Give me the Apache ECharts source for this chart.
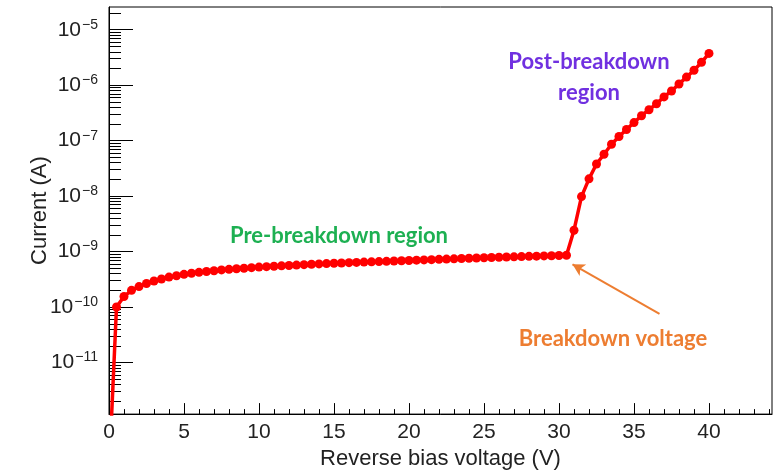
<!DOCTYPE html>
<html>
<head>
<meta charset="utf-8">
<script src="https://cdn.jsdelivr.net/npm/echarts@6/dist/echarts.min.js"></script>
<style>
html,body{margin:0;padding:0;background:#fff;}
#c{width:781px;height:475px;}
</style>
</head>
<body>
<div id="c"></div>
<script>
// Reverse bias voltage (V)
const voltage = [];
for (let i = 0; i <= 80; i++) voltage.push(i * 0.5);
// Current (A)
const current = [
  1.0e-13,
  1.00e-10, 1.55e-10, 2.00e-10, 2.34e-10, 2.66e-10, 2.95e-10, 3.20e-10, 3.47e-10, 3.67e-10, 3.89e-10,
  4.07e-10, 4.22e-10, 4.37e-10, 4.52e-10, 4.68e-10, 4.79e-10, 4.90e-10, 5.01e-10, 5.13e-10, 5.25e-10,
  5.35e-10, 5.45e-10, 5.53e-10, 5.62e-10, 5.71e-10, 5.81e-10, 5.90e-10, 6.00e-10, 6.08e-10, 6.17e-10,
  6.24e-10, 6.31e-10, 6.38e-10, 6.46e-10, 6.53e-10, 6.61e-10, 6.68e-10, 6.76e-10, 6.84e-10, 6.92e-10,
  7.00e-10, 7.08e-10, 7.16e-10, 7.24e-10, 7.33e-10, 7.41e-10, 7.50e-10, 7.59e-10, 7.67e-10, 7.76e-10,
  7.83e-10, 7.91e-10, 7.98e-10, 8.05e-10, 8.13e-10, 8.20e-10, 8.28e-10, 8.36e-10, 8.43e-10, 8.51e-10,
  8.59e-10,
  2.43e-9, 9.8e-9, 2.05e-8, 3.8e-8, 5.7e-8, 8.6e-8, 1.19e-7, 1.59e-7, 2.12e-7,
  2.82e-7, 3.61e-7, 4.62e-7, 6.15e-7, 7.87e-7, 1.05e-6, 1.40e-6, 1.86e-6, 2.58e-6, 3.74e-6
];
// Tick labels
const xTickLabels = [0, 5, 10, 15, 20, 25, 30, 35, 40];
const yDecades = [-11, -10, -9, -8, -7, -6, -5];
// Axis ranges
const xRange = [0, 44.2];
const yLogRange = [-11.93, -4.59];
// Annotations
const annoPre = 'Pre-breakdown region';
const annoPost = 'Post-breakdown\nregion';
const annoBreak = 'Breakdown voltage';
const arrowTail = [36.7, 1.0e-10 / Math.pow(10, 0.125)];
const arrowHead = [30.9, 1.0e-9 / Math.pow(10, 0.23)];

const seriesData = voltage.map((v, i) => [v, Math.log10(current[i])]);
const yMinor = [];
for (let n = -12; n <= -5; n++) {
  for (let k = 2; k <= 9; k++) {
    const v = n + Math.log10(k);
    if (v > yLogRange[0] && v < yLogRange[1]) yMinor.push(v);
  }
}
const xMinor = [];
for (let i = 1; i <= 44; i++) if (i % 5 !== 0) xMinor.push(i);

const FONT = '"Liberation Sans", Arial, sans-serif';
const ANNO = 'Lato, "Open Sans", sans-serif';

const chart = echarts.init(document.getElementById('c'), null, {renderer: 'canvas'});
chart.setOption({
  animation: false,
  backgroundColor: '#fff',
  grid: {left: 109, right: 9, top: 7, bottom: 56, show: true, borderColor: '#000', borderWidth: 1, backgroundColor: 'transparent'},
  xAxis: [{
    type: 'value', min: xRange[0], max: xRange[1], position: 'bottom',
    name: 'Reverse bias voltage (V)', nameLocation: 'middle', nameGap: 31,
    nameTextStyle: {fontFamily: FONT, fontSize: 22, color: '#222'},
    axisLine: {show: true, lineStyle: {color: '#000', width: 1}},
    axisTick: {show: true, inside: true, length: 11, customValues: xTickLabels, lineStyle: {color: '#000'}},
    axisLabel: {show: true, customValues: xTickLabels, margin: 8, fontFamily: FONT, fontSize: 21, color: '#222'},
    splitLine: {show: false}
  }, {
    type: 'value', min: xRange[0], max: xRange[1], position: 'bottom',
    axisLine: {show: false},
    axisTick: {show: true, inside: true, length: 5, customValues: xMinor, lineStyle: {color: '#000'}},
    axisLabel: {show: false},
    splitLine: {show: false}
  }],
  yAxis: [{
    type: 'value', min: yLogRange[0], max: yLogRange[1], position: 'left',
    name: 'Current (A)', nameLocation: 'middle', nameGap: 58, nameRotate: 90,
    nameMoveOverlap: false,
    nameTextStyle: {fontFamily: FONT, fontSize: 22, color: '#222'},
    axisLine: {show: true, lineStyle: {color: '#000', width: 1}},
    axisTick: {show: true, inside: true, length: 24, customValues: yDecades, lineStyle: {color: '#000'}},
    axisLabel: {
      show: true, customValues: yDecades, margin: 11,
      formatter: v => '{b|10}{s|' + String(Math.round(v)).replace('-', '\u2212') + '}',
      rich: {
        b: {fontFamily: FONT, fontSize: 21, color: '#222', lineHeight: 24},
        s: {fontFamily: FONT, fontSize: 14, color: '#222', verticalAlign: 'top', lineHeight: 14, padding: [0, 0, 0, 1]}
      }
    },
    splitLine: {show: false}
  }, {
    type: 'value', min: yLogRange[0], max: yLogRange[1], position: 'left',
    axisLine: {show: false},
    axisTick: {show: true, inside: true, length: 12, customValues: yMinor, lineStyle: {color: '#000'}},
    axisLabel: {show: false},
    splitLine: {show: false}
  }],
  series: [{
    type: 'line',
    xAxisIndex: 0, yAxisIndex: 0,
    data: seriesData,
    clip: true,
    symbol: 'circle', symbolSize: 9,
    showAllSymbol: true,
    itemStyle: {color: '#ff0000'},
    lineStyle: {color: '#ff0000', width: 3.5},
    markLine: {
      silent: true, animation: false,
      symbol: ['none', 'arrow'], symbolSize: [10, 12],
      label: {show: false},
      lineStyle: {color: '#ED7D31', width: 2, type: 'solid'},
      data: [[{coord: [arrowTail[0], Math.log10(arrowTail[1])]}, {coord: [arrowHead[0], Math.log10(arrowHead[1])]}]]
    }
  }],
  graphic: [
    {type: 'text', x: 339, y: 236, style: {text: annoPre, fill: '#1DB052', font: 'bold 22px ' + ANNO, textAlign: 'center', textVerticalAlign: 'middle'}},
    {type: 'text', x: 589, y: 77, style: {text: annoPost, fill: '#7030E0', font: 'bold 22px ' + ANNO, textAlign: 'center', textVerticalAlign: 'middle', lineHeight: 31}},
    {type: 'text', x: 613, y: 339, style: {text: annoBreak, fill: '#ED7D31', font: 'bold 22px ' + ANNO, textAlign: 'center', textVerticalAlign: 'middle'}}
  ]
});
</script>
</body>
</html>
